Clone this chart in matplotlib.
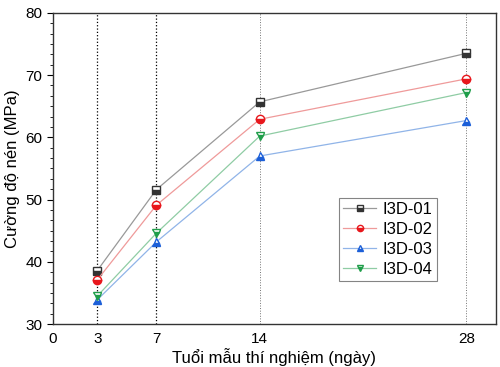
import numpy as np
import matplotlib.pyplot as plt
from matplotlib.ticker import MultipleLocator, AutoMinorLocator

plt.rcParams['font.family'] = ['Liberation Sans', 'DejaVu Sans']

# Age of samples (days) and compressive strength (MPa)
days = [3, 7, 14, 28]
s01 = [38.6, 51.6, 65.7, 73.5]
s02 = [37.1, 49.1, 62.9, 69.4]
s03 = [33.9, 43.2, 57.0, 62.7]
s04 = [34.5, 44.6, 60.2, 67.2]
names = ['I3D-01', 'I3D-02', 'I3D-03', 'I3D-04']
xticks = [0, 3, 7, 14, 28]

fig = plt.figure(figsize=(5, 3.67), dpi=100)
ax = fig.add_axes([0.106, 0.117, 0.886, 0.848])

# vertical guide lines
for d, c in zip(days, ['k', 'k', '0.45', '0.45']):
    ax.axvline(d, color=c, ls=':', lw=0.9 if c == 'k' else 0.7, zorder=1)

series = [s01, s02, s03, s04]
markers = ['s', 'o', '^', 'v']
mcols = ['#333333', '#e8171c', '#1c5fd8', '#1f9e4a']
lcols = ['#999999', '#ef9a9a', '#90b4e8', '#8fcca4']
for s, m, mc, lc, n in zip(series, markers, mcols, lcols, names):
    ax.plot(days, s, color=lc, lw=0.9, marker=m, ms=6, mec=mc, mfc=mc,
            mfcalt='white', fillstyle='bottom', mew=1.0, label=n, zorder=3)

ax.set_xlim(0, 30)
ax.set_ylim(30, 80)
ax.set_xticks(xticks)
ax.yaxis.set_major_locator(MultipleLocator(10))
ax.yaxis.set_minor_locator(AutoMinorLocator(6))
ax.tick_params(axis='both', direction='out', labelsize=11, length=4, width=0.8)
ax.tick_params(axis='y', which='minor', direction='out', length=2.5, width=0.6)
ax.tick_params(axis='x', length=0, pad=6)
for sp in ax.spines.values():
    sp.set_linewidth(1.0)
    sp.set_color('#333333')

ax.set_xlabel('Tuổi mẫu thí nghiệm (ngày)', fontsize=12, labelpad=1)
ax.set_ylabel('Cường độ nén (MPa)', fontsize=12, labelpad=4)

leg = ax.legend(loc='lower right', bbox_to_anchor=(0.867, 0.138), fontsize=12,
                frameon=True, fancybox=False, edgecolor='#666666',
                handlelength=2.0, handletextpad=0.4, borderpad=0.25,
                labelspacing=0.3, borderaxespad=0, markerscale=0.75)
leg.get_frame().set_linewidth(0.8)

plt.savefig('out.png', dpi=100)
